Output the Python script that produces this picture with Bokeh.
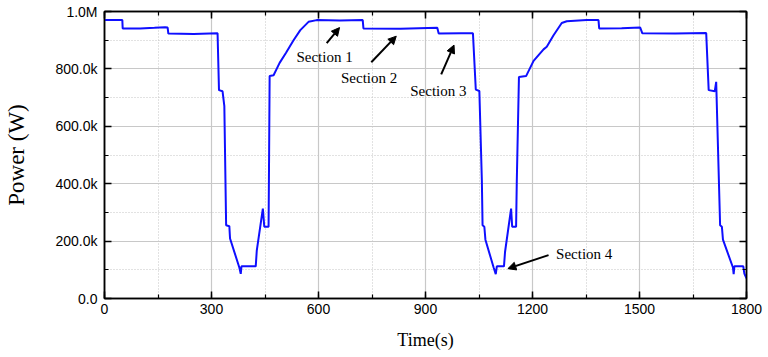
from bokeh.plotting import figure
from bokeh.models import (SingleIntervalTicker, LinearAxis, CustomJSTickFormatter, Range1d,
                          Arrow, NormalHead, Label)
from bokeh.embed import file_html
from bokeh.resources import INLINE

# ---- data ----
time_s = [0, 50, 51, 100, 140, 170, 177, 179, 250, 317, 321, 331, 336, 341, 350, 352, 378, 382, 384,
          424, 427, 444, 448, 460, 461, 463, 474, 491, 509, 530, 549, 572, 595, 660, 724, 726, 830,
          933, 937, 1000, 1033, 1041, 1051, 1058, 1060, 1065, 1068, 1091, 1097, 1100, 1120, 1123,
          1140, 1143, 1154, 1156, 1162, 1182, 1203, 1231, 1240, 1259, 1282, 1296, 1352, 1385, 1387,
          1450, 1502, 1508, 1600, 1687, 1694, 1711, 1715, 1726, 1731, 1734, 1762, 1764, 1766, 1791,
          1794, 1800]
power_w = [970e3, 970e3, 941e3, 941e3, 943e3, 945e3, 944e3, 923e3, 922e3, 924e3, 726e3, 722e3,
           670e3, 255e3, 252e3, 209e3, 108e3, 86e3, 112e3,
           112e3, 168e3, 313e3, 250e3, 250e3, 412e3, 775e3, 778e3, 821e3, 856e3, 900e3, 935e3, 964e3,
           970e3, 969e3, 970e3, 941e3, 940e3,
           943e3, 923e3, 924e3, 924e3, 728e3, 723e3, 412e3, 255e3, 250e3, 205e3, 108e3, 85e3, 112e3,
           112e3, 162e3,
           313e3, 250e3, 250e3, 412e3, 772e3, 775e3, 828e3, 868e3, 877e3, 917e3, 960e3, 966e3, 970e3,
           970e3, 941e3,
           942e3, 944e3, 924e3, 923e3, 925e3, 726e3, 722e3, 755e3, 255e3, 250e3, 205e3, 108e3, 85e3,
           112e3, 112e3,
           87e3, 70e3]

section_labels = ["Section 1", "Section 2", "Section 3", "Section 4"]
label_t = [617, 742, 936, 1345]
label_p = [842e3, 770e3, 723e3, 154e3]
arrow_t0 = [623, 748, 944, 1245]
arrow_p0 = [890e3, 823e3, 781e3, 151e3]
arrow_t1 = [659, 818, 980, 1131]
arrow_p1 = [944e3, 914e3, 883e3, 104e3]

# ---- figure ----
p = figure(width=768, height=357, output_backend="svg", toolbar_location=None,
           x_range=Range1d(0, 1800), y_range=Range1d(0, 1e6),
           min_border_left=104, min_border_right=22, min_border_top=11, min_border_bottom=59)
p.background_fill_color = "white"
p.border_fill_color = "white"
p.outline_line_color = "black"
p.outline_line_width = 1.5

xt = SingleIntervalTicker(interval=300, num_minor_ticks=2)
yt = SingleIntervalTicker(interval=200000, num_minor_ticks=2)
p.xaxis.ticker = xt
p.yaxis.ticker = yt

p.yaxis.formatter = CustomJSTickFormatter(code="""
if (tick == 0) return "0.0";
if (tick >= 1e6) return (tick/1e6).toFixed(1) + "M";
return (tick/1e3).toFixed(1) + "k";
""")

for ax in (p.xaxis[0], p.yaxis[0]):
    ax.major_tick_in = 7
    ax.major_tick_out = 0
    ax.minor_tick_in = 4
    ax.minor_tick_out = 0
    ax.axis_line_color = "black"
    ax.axis_line_width = 1.5
    ax.major_tick_line_color = "black"
    ax.major_tick_line_width = 1.5
    ax.minor_tick_line_color = "black"
    ax.minor_tick_line_width = 1.2
    ax.major_label_text_font = "Liberation Sans"
    ax.major_label_text_font_size = "14px"
    ax.major_label_text_color = "black"
    ax.axis_label_text_font = "Liberation Serif"
    ax.axis_label_text_font_style = "normal"
    ax.axis_label_text_color = "black"

p.xaxis.axis_label = "Time(s)"
p.xaxis.axis_label_text_font_size = "18px"
p.xaxis.major_label_standoff = 5
p.xaxis.axis_label_standoff = 13
p.yaxis.axis_label = "Power (W)"
p.yaxis.axis_label_text_font_size = "23px"
p.yaxis.major_label_standoff = 7
p.yaxis.axis_label_standoff = 23

# frame ticks on top and right (no labels)
blank = CustomJSTickFormatter(code="return '';")
top = LinearAxis(ticker=SingleIntervalTicker(interval=300, num_minor_ticks=2), formatter=blank)
right = LinearAxis(ticker=SingleIntervalTicker(interval=200000, num_minor_ticks=2), formatter=blank)
for ax in (top, right):
    ax.major_tick_in = 7
    ax.major_tick_out = 0
    ax.minor_tick_in = 4
    ax.minor_tick_out = 0
    ax.axis_line_color = "black"
    ax.axis_line_width = 1.5
    ax.major_tick_line_width = 1.5
    ax.minor_tick_line_width = 1.2
    ax.major_label_standoff = 0
p.add_layout(top, "above")
p.add_layout(right, "right")

# grids
p.xgrid.ticker = xt
p.ygrid.ticker = yt
for g in (p.xgrid[0], p.ygrid[0]):
    g.grid_line_color = "#c8c8c8"
    g.grid_line_width = 1.2
    g.minor_grid_line_color = "#c4c4c4"
    g.minor_grid_line_dash = "1 2"
    g.minor_grid_line_width = 1

p.line(time_s, power_w, line_color="#0f0fff", line_width=2)

for i in range(4):
    p.add_layout(Arrow(end=NormalHead(size=8, fill_color="black", line_color="black"),
                       x_start=arrow_t0[i], y_start=arrow_p0[i],
                       x_end=arrow_t1[i], y_end=arrow_p1[i],
                       line_color="black", line_width=2))
    p.add_layout(Label(x=label_t[i], y=label_p[i], text=section_labels[i],
                       text_font="Liberation Serif", text_font_size="15px",
                       text_align="center", text_baseline="middle", text_color="black"))

open("out.html", "w").write(file_html(p, INLINE))
